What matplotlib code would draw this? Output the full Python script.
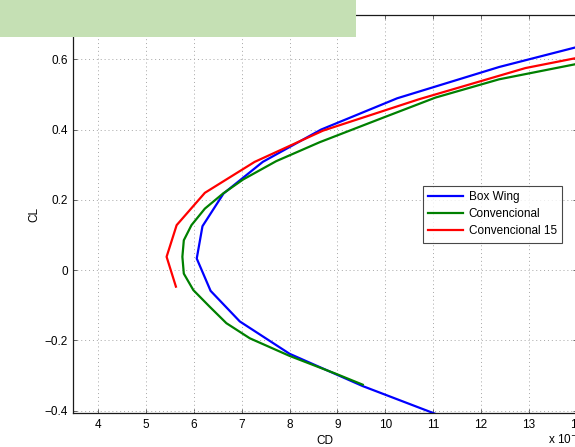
import matplotlib.pyplot as plt
from matplotlib.patches import Rectangle


# Drag polar: CD values in units of 1e-3
box_wing_cd = [11.26, 9.53, 8.0, 6.96, 6.35, 6.06, 6.18, 6.62, 7.44, 8.66, 10.25, 12.38, 14.9]
box_wing_cl = [-0.42, -0.33, -0.238, -0.146, -0.059, 0.033, 0.125, 0.218, 0.308, 0.40, 0.489, 0.578, 0.666]

conv_cd = [9.53, 8.97, 8.0, 7.17, 6.68, 6.33, 5.99, 5.79, 5.76, 5.79, 5.95, 6.23,
           6.61, 7.03, 7.72, 8.63, 9.94, 11.05, 12.38, 13.94, 15.5]
conv_cl = [-0.326, -0.295, -0.244, -0.194, -0.151, -0.104, -0.057, -0.01, 0.038, 0.085, 0.128, 0.175,
           0.218, 0.258, 0.31, 0.364, 0.433, 0.491, 0.543, 0.585, 0.63]

conv15_cd = [5.625, 5.43, 5.64, 6.23, 7.27, 8.7, 10.7, 12.93, 16.1]
conv15_cl = [-0.047, 0.038, 0.128, 0.22, 0.308, 0.397, 0.486, 0.575, 0.66]

x_ticks = [4, 5, 6, 7, 8, 9, 10, 11, 12, 13, 14]
y_ticks = [-0.4, -0.2, 0, 0.2, 0.4, 0.6]
y_tick_labels = ["\u22120.4", "\u22120.2", "0", "0.2", "0.4", "0.6"]

plt.rcParams["font.family"] = ["Liberation Sans", "DejaVu Sans"]

width_px, height_px = 575, 447
figure = plt.figure(figsize=(width_px / 100, height_px / 100), dpi=100)

left, right = 73.3, 576.6
top, bottom = 15.0, 413.3
axis = figure.add_axes([
    left / width_px,
    1 - bottom / height_px,
    (right - left) / width_px,
    (bottom - top) / height_px,
])

axis.plot(box_wing_cd, box_wing_cl, color=(0, 0, 1), lw=1.6, label="Box Wing")
axis.plot(conv_cd, conv_cl, color=(0, 0.5, 0), lw=1.6, label="Convencional")
axis.plot(conv15_cd, conv15_cl, color=(1, 0, 0), lw=1.6, label="Convencional 15")

axis.set_xlim(3.48, 14.0)
axis.set_ylim(-0.4074, 0.726)

axis.set_xticks(x_ticks)
axis.set_xticklabels([str(t) for t in x_ticks])
axis.set_yticks(y_ticks)
axis.set_yticklabels(y_tick_labels)

axis.tick_params(direction="in", length=3, width=0.6, labelsize=8.5,
                 top=True, right=True, pad=4, color="0.3")
axis.grid(True, linestyle=(0, (1, 3)), color="0.65", lw=0.7)

for spine in axis.spines.values():
    spine.set_linewidth(0.9)
    spine.set_color("0.1")

axis.set_xlabel("CD", fontsize=8.5, labelpad=3)
axis.set_ylabel("CL", fontsize=8.5, labelpad=3)

figure.text(548 / width_px, 1 - 439 / height_px, "x 10$^{-3}$",
            fontsize=8.5, ha="left", va="center")

legend = axis.legend(
    loc="upper left",
    bbox_to_anchor=((422.7 - left) / (right - left), (bottom - 186) / (bottom - top)),
    fontsize=8.5,
    frameon=True,
    fancybox=False,
    borderpad=0.45,
    handlelength=3.0,
    handletextpad=0.45,
    labelspacing=0.42,
    borderaxespad=0,
)
legend.get_frame().set_edgecolor("0.1")
legend.get_frame().set_linewidth(0.8)

# Light green banner across the top left corner
figure.patches.append(Rectangle(
    (0, 1 - 36.7 / height_px), 356 / width_px, 36.7 / height_px,
    transform=figure.transFigure, facecolor="#c5e0b4", edgecolor="none", zorder=10,
))

figure.savefig("out.png", dpi=100)
plt.close(figure)
